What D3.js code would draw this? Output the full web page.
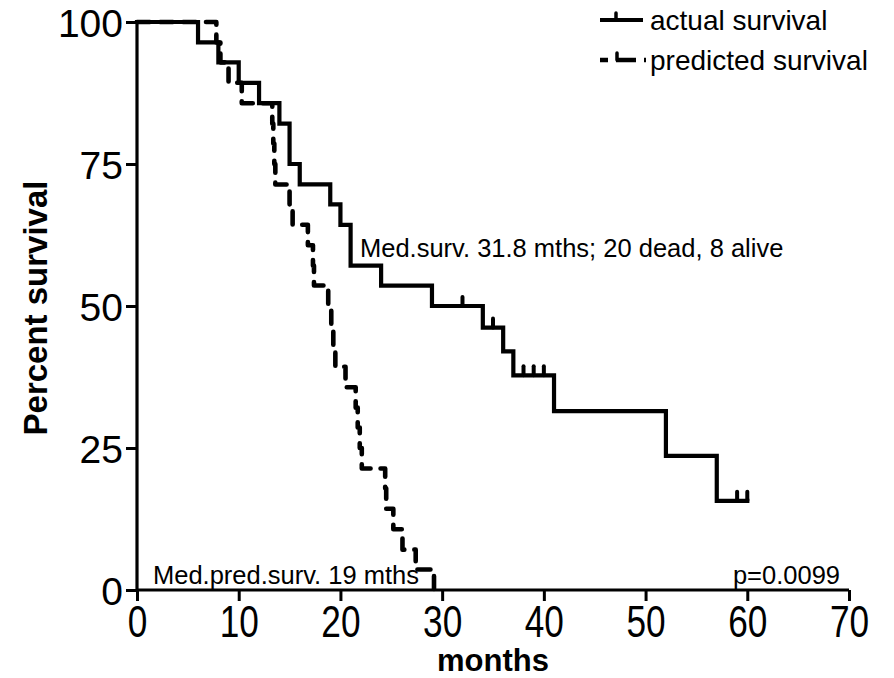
<!DOCTYPE html>
<html>
<head>
<meta charset="utf-8">
<script src="https://cdn.jsdelivr.net/npm/d3@7"></script>
<style>
  html, body { margin: 0; padding: 0; background: #fff; }
  svg { display: block; }
  text { font-family: "Liberation Sans", Arial, sans-serif; fill: #000; }
</style>
</head>
<body>
<svg id="chart" width="894" height="678"></svg>
<script>
// ---- data ----
const actualTimes = [0, 6, 8, 10, 12, 14, 15, 16, 19, 20, 21, 24, 29, 34, 36, 37, 41, 52, 57, 60];
const actualSurv  = [100, 96.4, 92.9, 89.3, 85.7, 82.1, 75.0, 71.4, 67.9, 64.3, 57.1, 53.6, 50.0, 46.2, 42.0, 37.8, 31.5, 23.6, 15.7, 15.7];
const censorTimes = [32, 35, 38, 39, 40, 59, 60];
const censorSurv  = [50.0, 46.2, 37.8, 37.8, 37.8, 15.7, 15.7];

const predTimes = [0, 7.8, 8.2, 9.0, 10.3, 13.3, 13.4, 13.5, 13.6, 15.0, 15.3, 16.8, 17.3, 17.4, 18.8, 19.1, 19.3, 19.5, 20.5, 21.5, 21.7, 21.9, 22.1, 24.4, 24.5, 25.2, 26.1, 27.4, 29.2];
const predSurv  = [100, 96.4, 92.9, 89.3, 85.7, 82.1, 78.6, 75.0, 71.4, 67.9, 64.3, 60.7, 57.1, 53.6, 50.0, 46.4, 42.9, 39.3, 35.7, 32.1, 28.6, 25.0, 21.4, 17.9, 14.3, 10.7, 7.1, 3.6, 0];

const xTicks = [0, 10, 20, 30, 40, 50, 60, 70];
const yTicks = [0, 25, 50, 75, 100];
const seriesNames = ["actual survival", "predicted survival"];
const xTitle = "months";
const yTitle = "Percent survival";
const noteActual = "Med.surv. 31.8 mths; 20 dead, 8 alive";
const notePred = "Med.pred.surv. 19 mths";
const noteP = "p=0.0099";

// ---- scales ----
const svg = d3.select("#chart");
const x = d3.scaleLinear().domain([0, 70]).range([137, 849]);
const y = d3.scaleLinear().domain([0, 100]).range([590, 22]);

// ---- axes ----
const xAxis = d3.axisBottom(x).tickValues(xTicks).tickSize(11).tickPadding(3);
const gx = svg.append("g").attr("transform", `translate(0,${y(0)})`).call(xAxis);
gx.select(".domain").attr("stroke", "#000").attr("stroke-width", 3.2).attr("d", `M${x(0)},0H${x(70)}`);
gx.selectAll(".tick line").attr("stroke", "#000").attr("stroke-width", 3);
gx.selectAll(".tick text").attr("font-size", 44).attr("dy", "0.74em")
  .attr("transform", "scale(0.8,1)")
  .attr("font-family", "Liberation Sans, Arial, sans-serif");

const yAxis = d3.axisLeft(y).tickValues(yTicks).tickSize(11).tickPadding(3);
const gy = svg.append("g").attr("transform", `translate(${x(0)},0)`).call(yAxis);
gy.select(".domain").attr("stroke", "#000").attr("stroke-width", 3.2).attr("d", `M0,${y(100)}V${y(0)}`);
gy.selectAll(".tick line").attr("stroke", "#000").attr("stroke-width", 3);
gy.selectAll(".tick text").attr("font-size", 39).attr("dy", "0.36em").attr("font-family", "Liberation Sans, Arial, sans-serif");

// ---- curves ----
const line = d3.line().x(d => x(d[0])).y(d => y(d[1])).curve(d3.curveStepAfter);
const actualData = actualTimes.map((t, i) => [t, actualSurv[i]]);
const predData = predTimes.map((t, i) => [t, predSurv[i]]);

svg.append("path").datum(predData).attr("d", line)
  .attr("fill", "none").attr("stroke", "#000").attr("stroke-width", 4.6)
  .attr("stroke-dasharray", "13,10").attr("stroke-linecap", "round").attr("stroke-linejoin", "round");

svg.append("path").datum(actualData).attr("d", line)
  .attr("fill", "none").attr("stroke", "#000").attr("stroke-width", 4.2)
  .attr("stroke-linejoin", "miter").attr("stroke-linecap", "square");

// censor ticks
svg.append("g").selectAll("line").data(censorTimes).join("line")
  .attr("x1", d => x(d)).attr("x2", d => x(d))
  .attr("y1", (d, i) => y(censorSurv[i]))
  .attr("y2", (d, i) => y(censorSurv[i]) - 9)
  .attr("stroke", "#000").attr("stroke-width", 4).attr("stroke-linecap", "round");

// ---- annotations ----
svg.append("text").attr("x", 360).attr("y", 257).attr("font-size", 25.5).text(noteActual);
svg.append("text").attr("x", 153).attr("y", 584).attr("font-size", 25.5).text(notePred);
svg.append("text").attr("x", 840).attr("y", 584).attr("font-size", 25.5).attr("text-anchor", "end").text(noteP);

// ---- titles ----
svg.append("text").attr("x", (x(0) + x(70)) / 2).attr("y", 671).attr("font-size", 31)
  .attr("font-weight", "bold").attr("text-anchor", "middle").text(xTitle);
svg.append("text").attr("transform", `translate(47,${(y(0) + y(100)) / 2 + 2}) rotate(-90)`)
  .attr("font-size", 33).attr("font-weight", "bold").attr("text-anchor", "middle").text(yTitle);

// ---- legend ----
const leg = svg.append("g");
const legY = [20, 60];
// actual
leg.append("line").attr("x1", 600).attr("x2", 643).attr("y1", legY[0]).attr("y2", legY[0])
  .attr("stroke", "#000").attr("stroke-width", 4.2);
leg.append("line").attr("x1", 616).attr("x2", 616).attr("y1", legY[0]).attr("y2", legY[0] - 7)
  .attr("stroke", "#000").attr("stroke-width", 3.5).attr("stroke-linecap", "round");
// predicted
leg.append("line").attr("x1", 600).attr("x2", 647).attr("y1", legY[1]).attr("y2", legY[1])
  .attr("stroke", "#000").attr("stroke-width", 4.5).attr("stroke-dasharray", "8,8,20,8,2,20");
leg.append("line").attr("x1", 617).attr("x2", 617).attr("y1", legY[1]).attr("y2", legY[1] - 7)
  .attr("stroke", "#000").attr("stroke-width", 3.5).attr("stroke-linecap", "round");
leg.selectAll("text.lg").data(seriesNames).join("text").attr("class", "lg")
  .attr("x", 650).attr("y", (d, i) => legY[i]).attr("dy", "0.35em")
  .attr("font-size", 28).text(d => d);
</script>
</body>
</html>
